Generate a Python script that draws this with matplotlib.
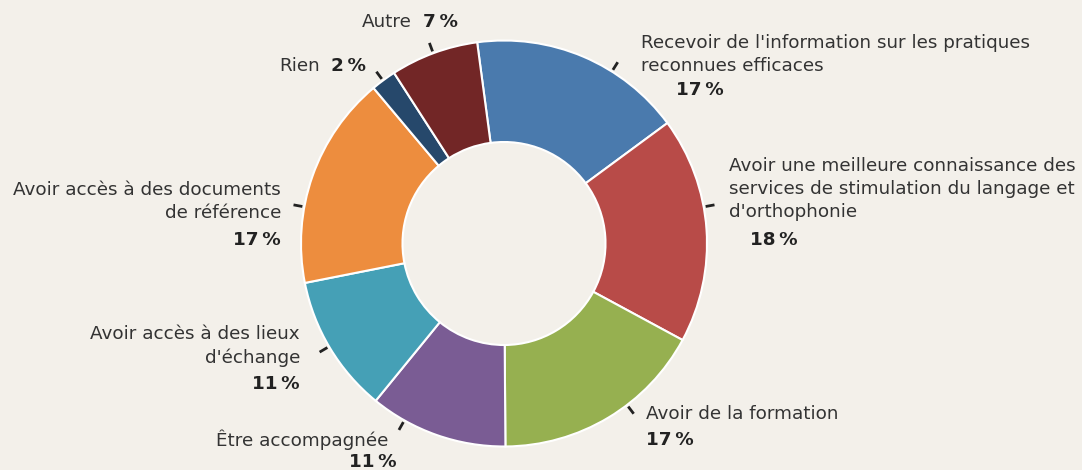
import numpy as np
import matplotlib.pyplot as plt

labels = ["Recevoir de l'information sur les pratiques\nreconnues efficaces",
          "Avoir une meilleure connaissance des\nservices de stimulation du langage et\nd'orthophonie",
          "Avoir de la formation",
          "Être accompagnée",
          "Avoir accès à des lieux\nd'échange",
          "Avoir accès à des documents\nde référence",
          "Rien",
          "Autre"]
values = [17, 18, 17, 11, 11, 17, 2, 7]
colors = ['#4a7aad', '#b84b48', '#96b050', '#7a5c94', '#45a0b6', '#ed8d3e', '#26486b', '#722626']

# layout (image pixel coords, y from top)
H = 470
cx, cy, R = 504, 243.5, 203
tick_ang = [57.9, 10.4, -52.7, -119.4, -149.5, 169.6, 126.6, 110.4]
name_pos = [(641, 34, 'left'), (729, 157, 'left'), (646, 405, 'left'), (388, 429, 'right'),
            (300, 325, 'right'), (281, 181, 'right'), (320, 57, 'right'), (412, 13, 'right')]
pct_pos = [(676, 90, 'left'), (750, 240, 'left'), (646, 440, 'left'), (397, 462, 'right'),
           (300, 384, 'right'), (281, 240, 'right'), (331, 66, 'left'), (423, 22, 'left')]

bg = '#f3f0ea'
fig = plt.figure(figsize=(10.82, 4.70), dpi=100, facecolor=bg)
ax = fig.add_axes([0, 0, 1, 1])
ax.set_facecolor(bg)

ax.pie(values, colors=colors, startangle=97.6, counterclock=False,
       radius=R, center=(cx, H - cy),
       wedgeprops=dict(width=R / 2, edgecolor='white', linewidth=1.5))

for a in tick_ang:
    t = np.deg2rad(a)
    ax.plot([cx + 205 * np.cos(t), cx + 214 * np.cos(t)],
            [H - cy + 205 * np.sin(t), H - cy + 214 * np.sin(t)],
            color='#222222', lw=2, solid_capstyle='butt')

fs = 13.2
for lab, v, (nx, ny, nha), (px, py, pha) in zip(labels, values, name_pos, pct_pos):
    ax.text(nx, H - ny, lab, ha=nha, va='top', fontsize=fs, color='#333333',
            linespacing=1.37, multialignment=nha)
    ax.text(px, H - py, f'{v}\u2009%', ha=pha, va='center', fontsize=fs,
            fontweight='bold', color='#222222')

ax.set_xlim(0, 1082)
ax.set_ylim(0, H)
ax.axis('off')
fig.savefig('out.png', dpi=100, facecolor=bg)
